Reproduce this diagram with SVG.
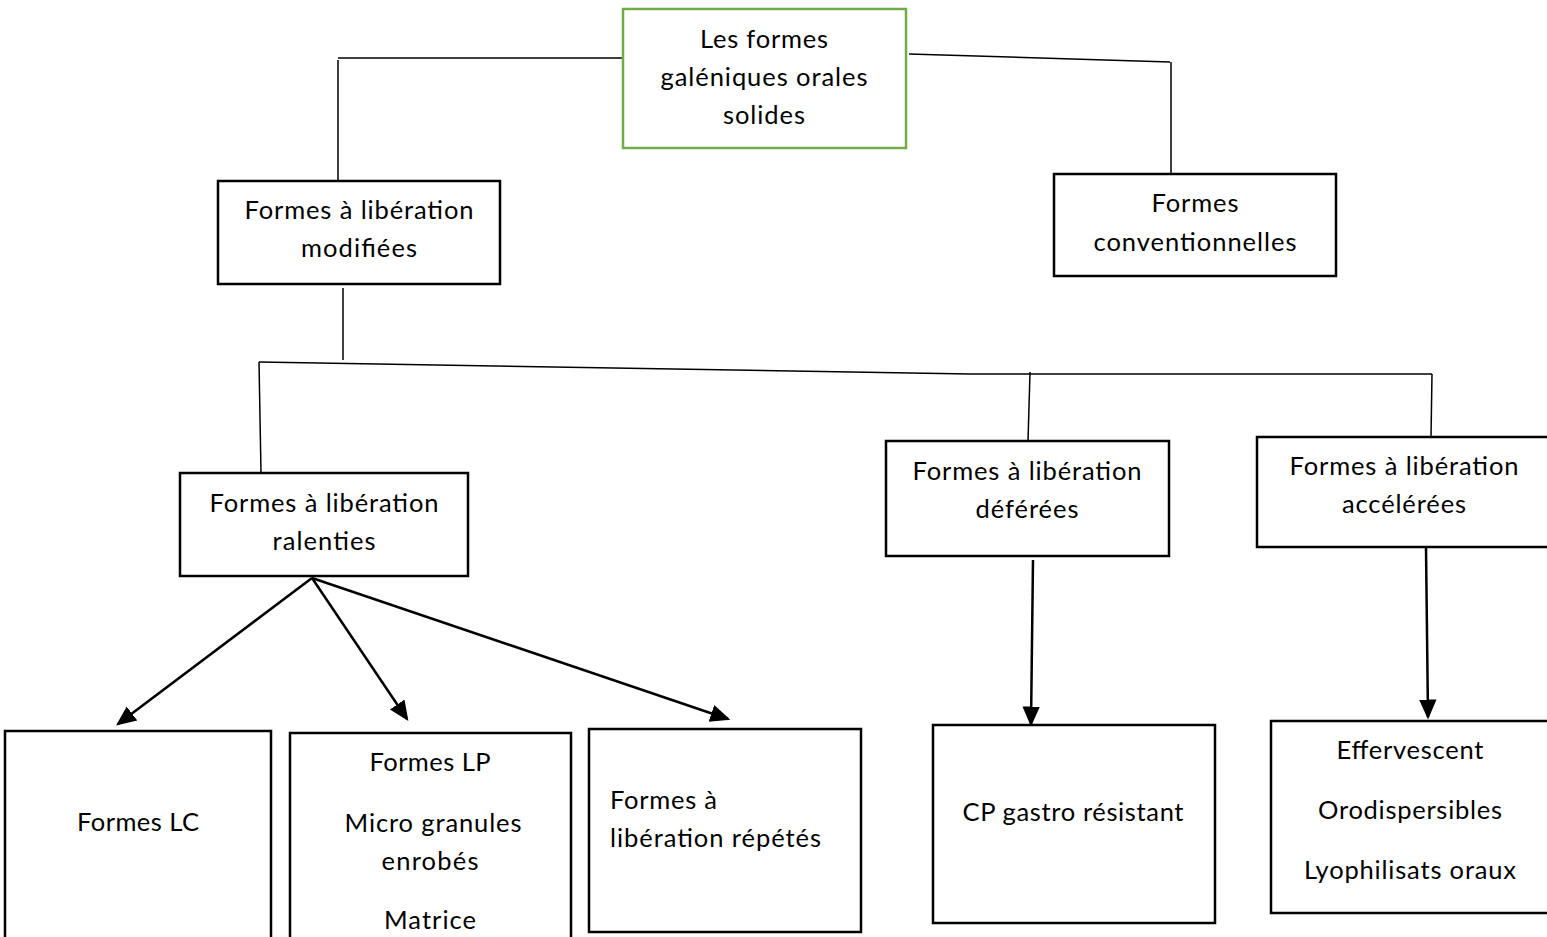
<svg xmlns="http://www.w3.org/2000/svg" width="1547" height="937" viewBox="0 0 1547 937">
<style>
.box{fill:#fff;stroke:#000;stroke-width:2.5}
.green{fill:#fff;stroke:#70AD47;stroke-width:2.5}
.t{font-family:Lato,"Open Sans","Liberation Sans",sans-serif;font-size:25.5px;fill:#000;text-anchor:middle}
.tl{text-anchor:start}
.ln{stroke:#000;stroke-width:1.5;fill:none}
.ar{stroke:#000;stroke-width:2.5;fill:none;marker-end:url(#ah)}
</style>
<defs>
<marker id="ah" markerWidth="8" markerHeight="8" refX="7" refY="3.5" orient="auto" markerUnits="strokeWidth" viewBox="0 0 8 7">
<path d="M0,0 L8,3.5 L0,7 Z" fill="#000"/>
</marker>
</defs>
<rect width="1547" height="937" fill="#fff"/>
<g id="connectors">
<path class="ln" d="M623,58 L338,58 M338,60 L338,180"/>
<path class="ln" d="M909,54 L1170,62 M1171,62 L1171,174"/>
<path class="ln" d="M343,288 L343,360"/>
<path class="ln" d="M259,362 L970,374 L1432,374"/>
<path class="ln" d="M259,362 L261,473"/>
<path class="ln" d="M1030,372 L1028,441"/>
<path class="ln" d="M1432,374 L1431,437"/>
<path class="ar" d="M312,578 L118,724"/>
<path class="ar" d="M312,578 L407,719"/>
<path class="ar" d="M312,578 L728,719"/>
<path class="ar" d="M1033,560 L1031,724"/>
<path class="ar" d="M1426,548 L1428,717"/>
</g>
<g id="n-root">
<rect class="green" x="623" y="9" width="283" height="139"/>
<text class="t" x="764" y="48" textLength="128">Les formes</text>
<text class="t" x="764" y="86" textLength="207">galéniques orales</text>
<text class="t" x="764" y="124" textLength="82">solides</text>
</g>
<g id="n-modifiees">
<rect class="box" x="218" y="181" width="282" height="103"/>
<text class="t" x="359" y="219" textLength="229">Formes à libération</text>
<text class="t" x="359" y="257" textLength="116">modifiées</text>
</g>
<g id="n-conv">
<rect class="box" x="1054" y="174" width="282" height="102"/>
<text class="t" x="1195" y="212" textLength="87">Formes</text>
<text class="t" x="1195" y="251" textLength="203">conventionnelles</text>
</g>
<g id="n-ralenties">
<rect class="box" x="180" y="473" width="288" height="103"/>
<text class="t" x="324" y="512" textLength="229">Formes à libération</text>
<text class="t" x="324" y="550" textLength="103">ralenties</text>
</g>
<g id="n-deferees">
<rect class="box" x="886" y="441" width="283" height="115"/>
<text class="t" x="1027" y="480" textLength="229">Formes à libération</text>
<text class="t" x="1027" y="518" textLength="103">déférées</text>
</g>
<g id="n-accelerees">
<rect class="box" x="1257" y="437" width="295" height="110"/>
<text class="t" x="1404" y="475" textLength="229">Formes à libération</text>
<text class="t" x="1404" y="513" textLength="124">accélérées</text>
</g>
<g id="n-lc">
<rect class="box" x="5" y="731" width="266" height="215"/>
<text class="t" x="138" y="831" textLength="122">Formes LC</text>
</g>
<g id="n-lp">
<rect class="box" x="290" y="733" width="281" height="215"/>
<text class="t" x="430" y="771" textLength="121">Formes LP</text>
<text class="t" x="433" y="832" textLength="177">Micro granules</text>
<text class="t" x="430" y="870" textLength="97">enrobés</text>
<text class="t" x="430" y="929" textLength="92">Matrice</text>
</g>
<g id="n-repetes">
<rect class="box" x="589" y="729" width="272" height="203"/>
<text class="t tl" x="610" y="809" textLength="107">Formes à</text>
<text class="t tl" x="610" y="847" textLength="211">libération répétés</text>
</g>
<g id="n-cp">
<rect class="box" x="933" y="725" width="282" height="198"/>
<text class="t" x="1073" y="821" textLength="221">CP gastro résistant</text>
</g>
<g id="n-eff">
<rect class="box" x="1271" y="721" width="290" height="192"/>
<text class="t" x="1410" y="759" textLength="147">Effervescent</text>
<text class="t" x="1410" y="819" textLength="184">Orodispersibles</text>
<text class="t" x="1410" y="879" textLength="212">Lyophilisats oraux</text>
</g>
</svg>
